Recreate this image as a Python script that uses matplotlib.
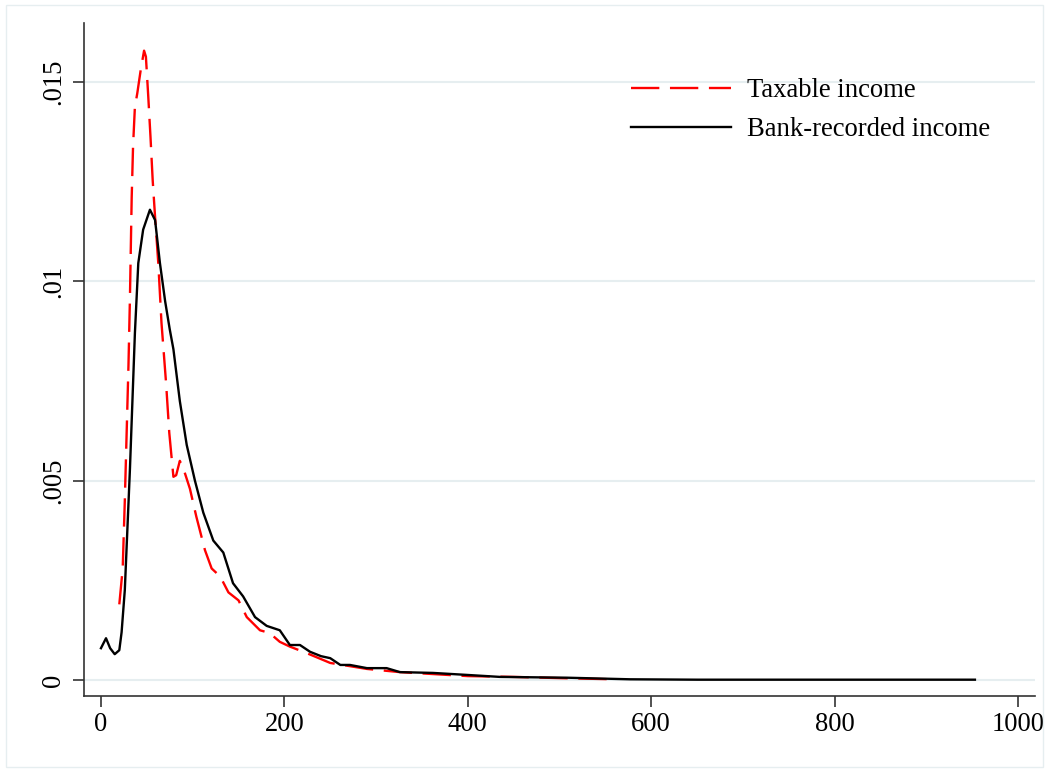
import matplotlib
matplotlib.use("Agg")
import matplotlib.pyplot as plt
from matplotlib.patches import Rectangle

# Bank-recorded income density
bank_x = [0, 5.5, 10, 15, 20, 22.5, 26, 31.6, 37, 40.7, 46, 53.4, 59, 64.3, 70, 75, 79, 86,
          93.5, 102.5, 111.6, 122.5, 133.4, 144, 155, 168, 180.7, 195, 206, 217, 228, 240,
          250, 261, 271.5, 290, 311.5, 326, 362, 399, 435, 508, 577, 650, 750, 850, 953]
bank_y = [0.0008, 0.00105, 0.0008, 0.00065, 0.00075, 0.0012, 0.00226, 0.0053, 0.0087, 0.01046,
          0.0113, 0.0118, 0.01154, 0.01046, 0.0095, 0.0088, 0.0083, 0.0070,
          0.0059, 0.0050, 0.0042, 0.0035, 0.0032, 0.00243, 0.0021, 0.00158, 0.00136, 0.00125,
          0.00088, 0.00088, 0.00071, 0.0006,
          0.00055, 0.00038, 0.00038, 0.0003, 0.0003, 0.0002, 0.00018, 0.00013, 0.00008, 0.00006,
          0.00002, 0.00001, 0.00001, 0.00001, 0.00001]

# Taxable income density
tax_x = [20, 23.7, 26, 30, 31.6, 33.5, 35, 37, 39.6, 43.3, 47, 49, 51.6, 54, 56.4, 59, 62.5,
         66, 71, 74.5, 79, 82, 86, 90, 97, 104, 113.4, 120.7, 130, 139, 150, 159, 173.4,
         184, 195, 206, 224, 250, 290, 326, 400, 450, 500, 560]
tax_y = [0.0019, 0.0028, 0.0045, 0.0079, 0.0096, 0.0121, 0.0134, 0.01438, 0.01472, 0.0153,
         0.01579, 0.01564, 0.01463, 0.01363, 0.01254, 0.01162, 0.01046,
         0.00896, 0.00745, 0.0062, 0.0051, 0.00514, 0.0055, 0.0053, 0.0048, 0.0041, 0.00326,
         0.0028, 0.0026, 0.0022, 0.0020, 0.00158, 0.00125,
         0.00118, 0.00096, 0.00084, 0.00068, 0.00043, 0.00028, 0.0002, 0.0001, 0.00008,
         0.00005, 0.00002]

xticks = [0, 200, 400, 600, 800, 1000]
yticks = [0, 0.005, 0.01, 0.015]
ytick_labels = ["0", ".005", ".01", ".015"]

plt.rcParams['font.family'] = ['Liberation Serif', 'DejaVu Serif']

fig = plt.figure(figsize=(10.5, 7.72), dpi=100)
fig.patches.append(Rectangle((6 / 1050, 5 / 772), 1037 / 1050, 762 / 772,
                             transform=fig.transFigure, fill=False,
                             edgecolor='#e6eef0', linewidth=1))
ax = fig.add_axes([0.08, 0.0984, 0.9057, 0.8716])

ax.plot(tax_x, tax_y, color='red', linewidth=1.7, dashes=(12, 4.5), label='Taxable income')
ax.plot(bank_x, bank_y, color='black', linewidth=1.7, label='Bank-recorded income')

ax.set_xlim(-18.5, 1018.5)
ax.set_ylim(-0.0004, 0.01648)
ax.set_xticks(xticks)
ax.set_xticklabels([str(t) for t in xticks])
ax.set_yticks(yticks)
ax.set_yticklabels(ytick_labels, rotation=90, va='center')
ax.tick_params(axis='both', labelsize=19.2, length=8, width=1.2, color='#333333')
ax.tick_params(axis='y', pad=5)
ax.grid(axis='y', color='#e6eef0', linewidth=1.5)
ax.set_axisbelow(True)
for s in ['top', 'right']:
    ax.spines[s].set_visible(False)
for s in ['left', 'bottom']:
    ax.spines[s].set_linewidth(1.2)
    ax.spines[s].set_color('#333333')

ax.legend(loc='upper left', bbox_to_anchor=(607 / 1050, 1 - 54 / 772),
          bbox_transform=fig.transFigure, frameon=False, fontsize=19.2,
          handlelength=3.75, handletextpad=0.6, labelspacing=0.52)

fig.savefig("out.png", dpi=100)
